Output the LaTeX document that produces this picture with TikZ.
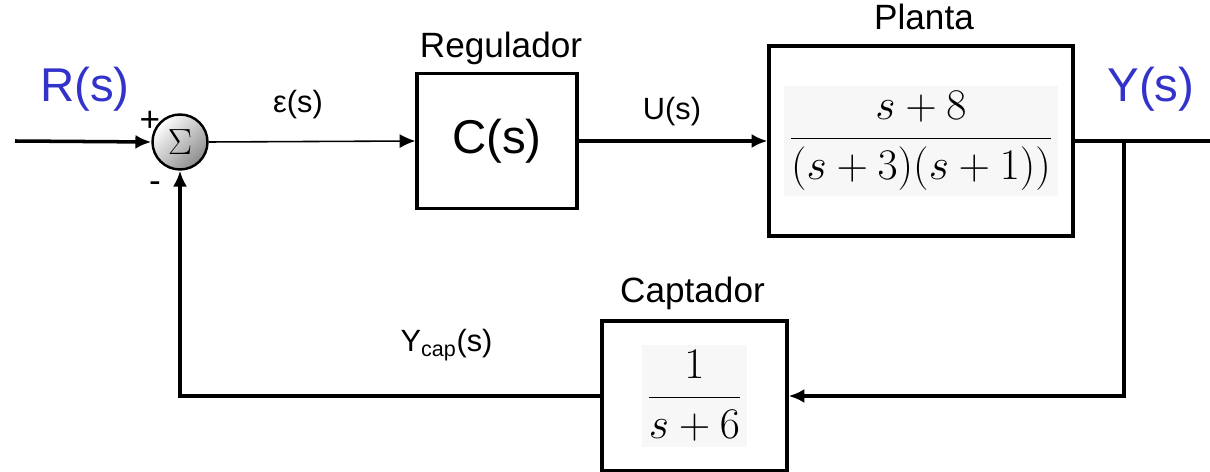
\documentclass[tikz,border=0pt]{standalone}
\usepackage[no-math]{fontspec}
\setmainfont{Liberation Sans}
\usetikzlibrary{arrows.meta}

\definecolor{sigblue}{RGB}{51,51,204}

\tikzset{
  bloc/.style={draw, line width=1.8pt, inner sep=0pt},
  fil/.style={line width=2pt, -{Latex[length=9pt,width=8pt]}},
  titre/.style={font=\fontsize{20}{24}\selectfont, anchor=base},
  lbl/.style={font=\fontsize{17.5}{21}\selectfont, anchor=base},
  gros/.style={font=\fontsize{27}{31}\selectfont},
}

\newcommand{\fracbox}[2]{\fboxsep=3pt\colorbox{black!3}{$\displaystyle\frac{#1}{#2}$}}

\begin{document}
\begin{tikzpicture}[x=0.02cm, y=-0.02cm]
\useasboundingbox (0,0) rectangle (1210,472);

% blocs
\node[bloc, gros, minimum width=3.2cm, minimum height=2.7cm] (reg) at (497,141) {C(s)};
\node[bloc, minimum width=6.08cm, minimum height=3.8cm, font=\fontsize{23}{28}\selectfont] (plan) at (921,141)
  {\fracbox{s+8}{(s+3)(s+1))}};
\node[bloc, minimum width=3.7cm, minimum height=3.0cm, font=\fontsize{25}{30}\selectfont] (cap) at (694.5,396)
  {\fracbox{1}{s+6}};

\node[titre] (treg) at (501,58) {Regulador};
\node[titre] (tplan) at (924,30) {Planta};
\node[titre] (tcap) at (692.5,303) {Captador};

% comparateur
\node[circle, draw, line width=1.4pt, minimum size=1.1cm, inner sep=0pt,
  top color=white, bottom color=black!45, shading angle=45,
  font=\fontsize{21}{24}\selectfont] (sum) at (180,142) {$\Sigma$};
\node[font=\fontsize{20}{22}\selectfont] (plus) at (150,121) {+};
\node[font=\fontsize{20}{22}\selectfont] (moins) at (155,187) {-};

% signaux
\node[lbl, gros, text=sigblue] (r) at (85,102) {R(s)};
\node[lbl, gros, text=sigblue] (y) at (1151,102) {Y(s)};
\node[lbl] (eps) at (298,113) {ε(s)};
\node[lbl] (u) at (672,120) {U(s)};
\node[lbl] (ycap) at (446.5,352) {Y\textsubscript{cap}(s)};

\coordinate (in) at (15,141);
\coordinate (out) at (1210,141);
\coordinate (br) at (1124,141);

\draw[fil] (in) -- (sum.west);
\draw[fil, line width=0.9pt] (sum.east) -- (reg.west);
\draw[fil] (reg.east) -- (plan.west);
\draw[line width=2pt] (plan.east) -- (out);
\draw[fil] (br) |- (cap.east);
\draw[fil] (cap.west) -| (sum.south);
\end{tikzpicture}
\end{document}
